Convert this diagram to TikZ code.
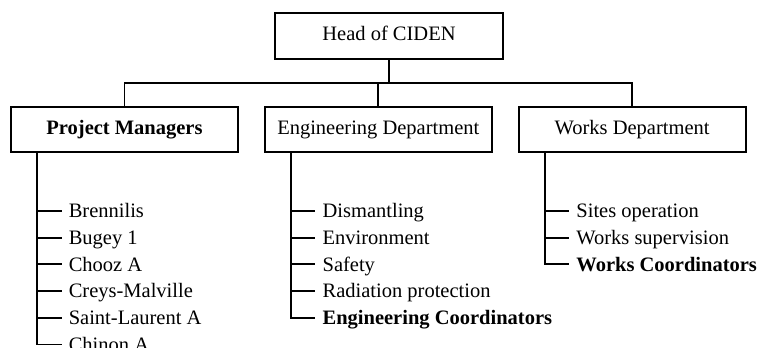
\documentclass[tikz,border=0pt]{standalone}
\usepackage{fontspec}
\setmainfont{Liberation Serif}
\usetikzlibrary{positioning}

\begin{document}
\begin{tikzpicture}[x=1pt, y=-1pt,
					box/.style={rectangle, draw=black, line width=1.8pt, minimum width=227pt, minimum height=45pt, text height=13.5pt, text depth=4pt, font=\fontsize{20.5}{24}\selectfont},
					item/.style={anchor=west, inner xsep=7pt, inner ysep=0pt, text height=13.5pt, text depth=0pt, font=\fontsize{20.5}{24}\selectfont},
					link/.style={draw=black, line width=1.8pt},
					node distance=12.8pt
				]
				\useasboundingbox (0,0) rectangle (761,348);
				\node[box, minimum width=228pt, minimum height=46pt] (head) at (389,36) {Head of CIDEN};
				\node[box] (pm) at (124.5,129.5) {\textbf{Project Managers}};
				\node[box] (eng) [right=25pt of pm] {Engineering Department};
				\node[box] (works) [right=25pt of eng] {Works Department};
				\draw[link] (head.south) -- ++(0,23) coordinate (bar);
				\draw[link] (pm.north) |- (bar) -| (works.north);
				\draw[link] (eng.north) -- (eng.north |- bar);
				% project managers
				\node[item] (brennilis) at ([xshift=51.5pt, yshift=-58pt]pm.south west) {Brennilis};
				\node[item] (bugey) [below=of brennilis.south west, anchor=north west] {Bugey 1};
				\node[item] (chooz) [below=of bugey.south west, anchor=north west] {Chooz A};
				\node[item] (creys) [below=of chooz.south west, anchor=north west] {Creys-Malville};
				\node[item] (stlaurent) [below=of creys.south west, anchor=north west] {Saint-Laurent A};
				\node[item] (chinon) [below=of stlaurent.south west, anchor=north west] {Chinon A};
				\draw[link] ([xshift=27pt]pm.south west) |- (brennilis.west);
				\draw[link] ([xshift=27pt]pm.south west) |- (bugey.west);
				\draw[link] ([xshift=27pt]pm.south west) |- (chooz.west);
				\draw[link] ([xshift=27pt]pm.south west) |- (creys.west);
				\draw[link] ([xshift=27pt]pm.south west) |- (stlaurent.west);
				\draw[link] ([xshift=27pt]pm.south west) |- (chinon.west);
				% engineering department
				\node[item] (dismantling) at ([xshift=51.5pt, yshift=-58pt]eng.south west) {Dismantling};
				\node[item] (environment) [below=of dismantling.south west, anchor=north west] {Environment};
				\node[item] (safety) [below=of environment.south west, anchor=north west] {Safety};
				\node[item] (radiation) [below=of safety.south west, anchor=north west] {Radiation protection};
				\node[item] (engcoord) [below=of radiation.south west, anchor=north west] {\textbf{Engineering Coordinators}};
				\draw[link] ([xshift=27pt]eng.south west) |- (dismantling.west);
				\draw[link] ([xshift=27pt]eng.south west) |- (environment.west);
				\draw[link] ([xshift=27pt]eng.south west) |- (safety.west);
				\draw[link] ([xshift=27pt]eng.south west) |- (radiation.west);
				\draw[link] ([xshift=27pt]eng.south west) |- (engcoord.west);
				% works department
				\node[item] (sitesop) at ([xshift=51.5pt, yshift=-58pt]works.south west) {Sites operation};
				\node[item] (worksup) [below=of sitesop.south west, anchor=north west] {Works supervision};
				\node[item] (workscoord) [below=of worksup.south west, anchor=north west] {\textbf{Works Coordinators}};
				\draw[link] ([xshift=27pt]works.south west) |- (sitesop.west);
				\draw[link] ([xshift=27pt]works.south west) |- (worksup.west);
				\draw[link] ([xshift=27pt]works.south west) |- (workscoord.west);
				\end{tikzpicture}
\end{document}
